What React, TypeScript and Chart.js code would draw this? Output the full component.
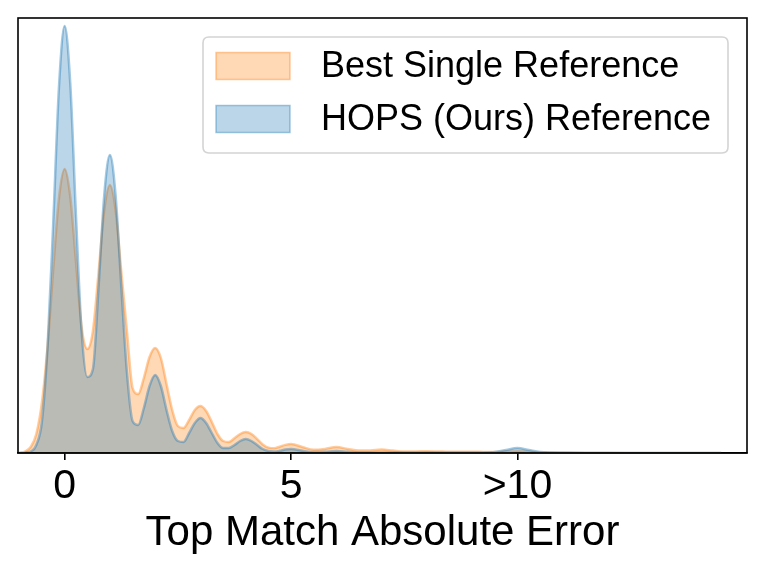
import { useEffect, useRef } from "react";
import { Chart, registerables } from "chart.js";

Chart.register(...registerables);

// Evaluation grid (error value) at which the density curves were read
const gridX = [
  -1.0, -0.875, -0.75, -0.625, -0.5, -0.375, -0.25, -0.125,
  0, 0.125, 0.25, 0.375, 0.5, 0.625, 0.75, 0.875,
  1.0, 1.125, 1.25, 1.375, 1.5, 1.625, 1.75, 1.875,
  2.0, 2.125, 2.25, 2.375, 2.5, 2.625, 2.75, 2.875,
  3.0, 3.125, 3.25, 3.375, 3.5, 3.625, 3.75, 3.875,
  4.0, 4.125, 4.25, 4.375, 4.5, 4.625, 4.75, 4.875,
  5.0, 5.25, 5.5, 5.75, 6.0, 6.25, 6.5, 6.75,
  7.0, 7.25, 7.5, 7.75, 8.0, 8.25, 8.5, 8.75,
  9.0, 9.25, 9.5, 9.75, 10.0, 10.25, 10.5, 10.75,
  11.0, 11.5, 12.0, 12.5, 13.0, 13.5, 14.0, 14.5,
];

// Density (arbitrary units) of "Best Single Reference"
const bestSingle = [
  0.2, 1.5, 6, 19, 51, 108, 185, 255,
  284, 256, 191, 126, 104, 122, 181, 243,
  268, 243, 182, 122, 65, 59, 75, 96,
  105, 95, 69, 43, 27, 25, 33, 43,
  47, 42, 31, 19, 12, 11, 14.7, 19,
  21, 19, 14, 8.6, 5.4, 4.8, 6.3, 8.1,
  9, 6, 3.2, 4.1, 6, 4, 2.4, 2.5,
  3.4, 2.4, 1.5, 1.5, 1.8, 1.5, 1.2, 1.2,
  1.3, 1.1, 1, 1.4, 1.8, 1.3, 0.8, 0.6,
  0.5, 0.3, 0.2, 0.1, 0, 0, 0, 0,
];

// Density (arbitrary units) of "HOPS (Ours) Reference"
const hops = [
  0, 0.3, 1.5, 8, 32, 108, 232, 366,
  427, 369, 238, 121, 76, 84, 166, 258,
  298, 258, 167, 81, 32, 28, 45, 67,
  78, 67, 43, 22, 12, 11, 20, 30,
  35, 30, 20, 10, 5, 5, 8, 12,
  14, 12, 8, 4, 2, 1.5, 2.2, 3.5,
  4, 2.2, 1, 1.2, 2, 1.2, 0.6, 0.5,
  0.6, 0.5, 0.5, 0.5, 0.6, 0.5, 0.5, 0.5,
  0.6, 0.6, 1, 3, 5, 3, 1, 0.4,
  0.2, 0.1, 0.1, 0, 0, 0, 0, 0,
];

const seriesLabels = ["Best Single Reference", "HOPS (Ours) Reference"];
const xTickValues = [0, 5, 10];
const xTickLabels = ["0", "5", ">10"];
const axisTitle = "Top Match Absolute Error";

const FONT = "'Liberation Sans', Arial, Helvetica, sans-serif";

const framePlugin = {
  id: "frame",
  afterDatasetsDraw(chart: any) {
    const { ctx, chartArea: a } = chart;
    ctx.save();
    ctx.strokeStyle = "#000";
    ctx.lineWidth = 1.6;
    ctx.strokeRect(a.left, a.top, a.right - a.left, a.bottom - a.top);
    ctx.restore();
  },
};

const legendPlugin = {
  id: "boxLegend",
  afterDraw(chart: any) {
    const ctx = chart.ctx;
    const bx = 203, by = 37, bw = 525, bh = 116, r = 6;
    ctx.save();
    ctx.beginPath();
    ctx.moveTo(bx + r, by);
    ctx.lineTo(bx + bw - r, by);
    ctx.quadraticCurveTo(bx + bw, by, bx + bw, by + r);
    ctx.lineTo(bx + bw, by + bh - r);
    ctx.quadraticCurveTo(bx + bw, by + bh, bx + bw - r, by + bh);
    ctx.lineTo(bx + r, by + bh);
    ctx.quadraticCurveTo(bx, by + bh, bx, by + bh - r);
    ctx.lineTo(bx, by + r);
    ctx.quadraticCurveTo(bx, by, bx + r, by);
    ctx.closePath();
    ctx.fillStyle = "rgba(255,255,255,0.8)";
    ctx.fill();
    ctx.strokeStyle = "#d4d4d4";
    ctx.lineWidth = 1.6;
    ctx.stroke();

    chart.data.datasets.forEach((ds: any, i: number) => {
      const cy = 66 + i * 53;
      const px = 216, pw = 74, ph = 27;
      ctx.fillStyle = "#fff";
      ctx.fillRect(px, cy - ph / 2, pw, ph);
      ctx.fillStyle = ds.backgroundColor;
      ctx.fillRect(px, cy - ph / 2, pw, ph);
      ctx.strokeStyle = ds.borderColor;
      ctx.lineWidth = 1.5;
      ctx.strokeRect(px, cy - ph / 2, pw, ph);
      ctx.fillStyle = "#000";
      ctx.font = `36px ${FONT}`;
      ctx.textBaseline = "middle";
      ctx.textAlign = "left";
      ctx.fillText(ds.label, 321, cy + 1);
    });
    ctx.restore();
  },
};

export default function App() {
  const canvasRef = useRef<HTMLCanvasElement | null>(null);

  useEffect(() => {
    document.body.style.margin = "0";
    const canvas = canvasRef.current;
    if (!canvas) return;

    const chart = new Chart(canvas, {
      type: "line",
      data: {
        datasets: [
          {
            label: seriesLabels[0],
            data: gridX.map((x, i) => ({ x, y: bestSingle[i] })),
            backgroundColor: "rgba(255,127,14,0.3)",
            borderColor: "rgba(255,127,14,0.4)",
            borderWidth: 2.5,
            fill: "origin",
            pointRadius: 0,
            cubicInterpolationMode: "monotone",
            order: 1,
          },
          {
            label: seriesLabels[1],
            data: gridX.map((x, i) => ({ x, y: hops[i] })),
            backgroundColor: "rgba(31,119,180,0.3)",
            borderColor: "rgba(31,119,180,0.4)",
            borderWidth: 2.5,
            fill: "origin",
            pointRadius: 0,
            cubicInterpolationMode: "monotone",
            order: 0,
          },
        ],
      },
      options: {
        animation: false,
        responsive: false,
        maintainAspectRatio: false,
        layout: { padding: { left: 18, right: 18, top: 18, bottom: 0 } },
        plugins: {
          legend: { display: false },
          tooltip: { enabled: false },
        },
        scales: {
          x: {
            type: "linear",
            min: -1.03,
            max: 15.07,
            afterBuildTicks: (scale: any) => {
              scale.ticks = xTickValues.map((v) => ({ value: v }));
            },
            afterFit: (scale: any) => {
              scale.height = 124;
            },
            ticks: {
              autoSkip: false,
              maxRotation: 0,
              padding: 2,
              color: "#000",
              font: { family: FONT, size: 41 },
              callback: (value: any) => {
                const idx = xTickValues.indexOf(Number(value));
                return idx >= 0 ? xTickLabels[idx] : "";
              },
            },
            grid: {
              drawOnChartArea: false,
              drawTicks: true,
              tickLength: 7,
              color: "#000",
              lineWidth: 1.6,
            },
            border: { display: true, color: "#000", width: 1.6 },
            title: {
              display: true,
              text: axisTitle,
              color: "#000",
              font: { family: FONT, size: 42 },
              padding: { top: 0, bottom: 18 },
            },
          },
          y: {
            display: false,
            min: 0,
            max: 435,
          },
        },
      },
      plugins: [framePlugin, legendPlugin],
    } as any);

    return () => chart.destroy();
  }, []);

  return (
    <canvas
      ref={canvasRef}
      width={765}
      height={577}
      style={{ display: "block", width: 765, height: 577 }}
    />
  );
}
